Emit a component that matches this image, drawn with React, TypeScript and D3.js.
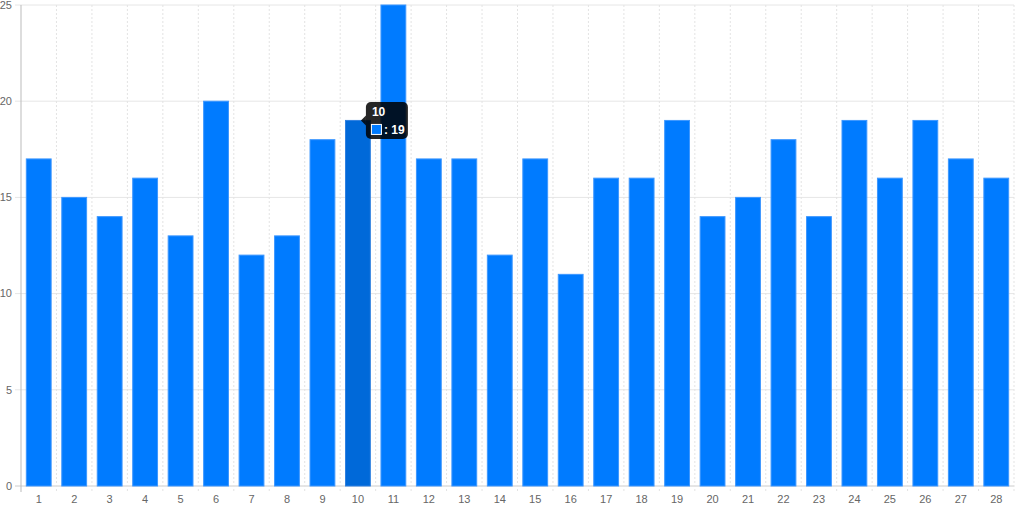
import React from "react";
import * as d3 from "d3";

const categories = ["1","2","3","4","5","6","7","8","9","10","11","12","13","14","15","16","17","18","19","20","21","22","23","24","25","26","27","28"];
const values = [17,15,14,16,13,20,12,13,18,19,25,17,17,12,17,11,16,16,19,14,15,18,14,19,16,19,17,16];
const yTicks = [0,5,10,15,20,25];
const hoverIndex = 9;

export default function App() {
  const W = 1024, H = 512;
  const left = 21, right = 1014, top = 5, bottom = 486;
  const x = d3.scaleBand<string>().domain(categories).range([left, right]).paddingInner(0).paddingOuter(0);
  const y = d3.scaleLinear().domain([0, 25]).range([bottom, top]);
  const bw = x.bandwidth() * 0.7;
  const font = "'Helvetica Neue', Helvetica, Arial, 'Liberation Sans', sans-serif";
  const hx = (x(categories[hoverIndex]) as number) + x.bandwidth() / 2;
  const hy = y(values[hoverIndex]);
  const tipX = hx + 8, tipY = hy - 18.5;
  return (
    <svg width={W} height={H} style={{ position: "absolute", left: 0, top: 0 }}>
      <rect width={W} height={H} fill="#fff" />
      {yTicks.map(t => (
        <g key={"y" + t}>
          <line x1={left - 6} x2={right} y1={y(t)} y2={y(t)} stroke={t === 0 ? "#ccc" : "#e6e6e6"} strokeWidth={1} />
          <text x={left - 9} y={y(t)} dy="0.35em" textAnchor="end" fontSize={11} fill="#666" fontFamily={font}>{t}</text>
        </g>
      ))}
      {categories.map((c, i) => (
        <line key={"g" + c} x1={(x(c) as number) + x.bandwidth()} x2={(x(c) as number) + x.bandwidth()} y1={top} y2={bottom + 6}
          stroke="#e3e3e3" strokeDasharray="2,2" strokeWidth={1} />
      ))}
      <line x1={left} x2={left} y1={top} y2={bottom + 6} stroke="#bbb" />
      {categories.map((c, i) => (
        <g key={"b" + c}>
          <rect x={(x(c) as number) + (x.bandwidth() - bw) / 2} y={y(values[i])} width={bw} height={bottom - y(values[i])}
            fill={i === hoverIndex ? "#0069d9" : "#007bff"} stroke={i === hoverIndex ? "#2f80e0" : "#3d97ff"} strokeWidth={1} />
          <text x={(x(c) as number) + x.bandwidth() / 2} y={499} dy="0.35em" textAnchor="middle" fontSize={11} fill="#666" fontFamily={font}>{c}</text>
        </g>
      ))}
      <g>
        <path d={`M${tipX - 5},${tipY + 18.5} L${tipX},${tipY + 13.5} L${tipX},${tipY + 23.5} Z`} fill="rgba(0,0,0,0.85)" />
        <rect x={tipX} y={tipY} width={42} height={37} rx={5} fill="rgba(0,0,0,0.85)" />
        <text x={tipX + 6} y={tipY + 10} dy="0.35em" fontSize={12} fontWeight="bold" fill="#fff" fontFamily={font}>{categories[hoverIndex]}</text>
        <rect x={tipX + 5.5} y={tipY + 22.5} width={10} height={10} fill="#007bff" stroke="#fff" strokeWidth={1} />
        <text x={tipX + 18} y={tipY + 27.5} dy="0.35em" fontSize={12} fontWeight="600" fill="#fff" fontFamily={font}>: {values[hoverIndex]}</text>
      </g>
    </svg>
  );
}
